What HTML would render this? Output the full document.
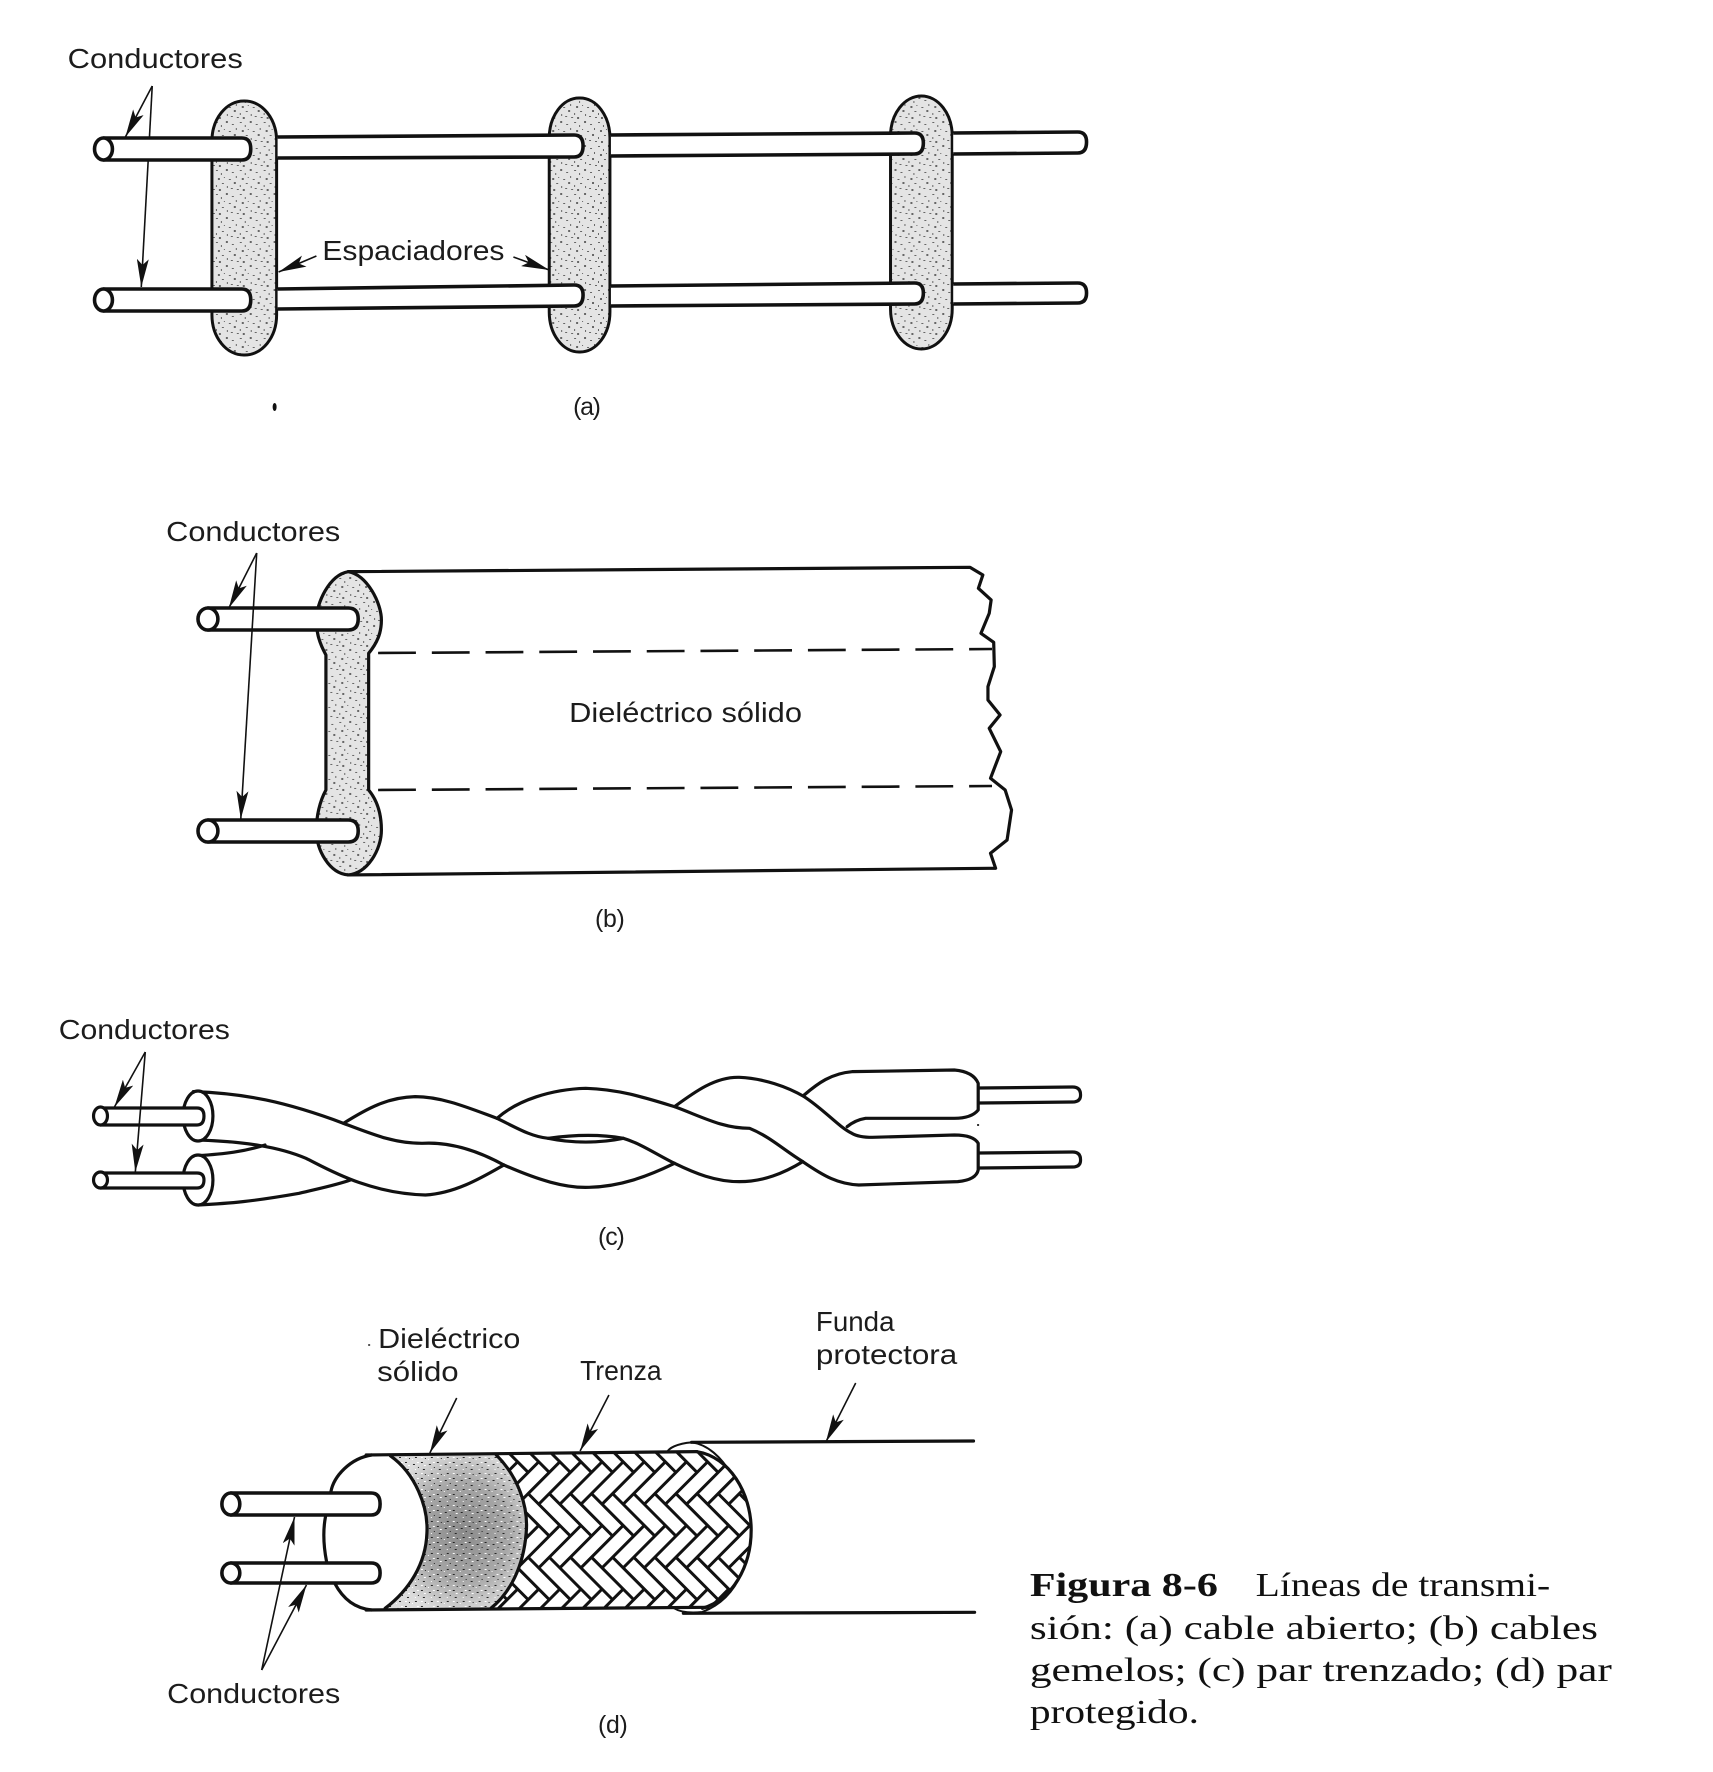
<!DOCTYPE html>
<html><head><meta charset="utf-8"><style>
html,body{margin:0;padding:0;background:#fff}
svg{display:block}
text{font-family:"Liberation Sans",sans-serif;font-size:28px;fill:#1c1c1c}
.s{font-family:"Liberation Serif",serif;font-size:34px;fill:#111}
.l{stroke:#111;stroke-width:3.2;fill:none;stroke-linejoin:round;stroke-linecap:round}
.l path,.l ellipse{vector-effect:non-scaling-stroke}
.w{stroke:#111;stroke-width:3.6;fill:#fff;stroke-linejoin:round}
.a{stroke:#111;stroke-width:1.6;fill:none;marker-end:url(#ah)}
</style></head><body>
<svg width="1713" height="1772" viewBox="0 0 1713 1772" xmlns="http://www.w3.org/2000/svg">
<defs>
<marker id="ah" markerUnits="userSpaceOnUse" viewBox="0 0 28 12" refX="28" refY="6" markerWidth="28" markerHeight="12" orient="auto"><path d="M0 0L28 6L0 12L6 6Z" fill="#111"/></marker>
<pattern id="st" patternUnits="userSpaceOnUse" width="24" height="24">
<rect width="24" height="24" fill="#e4e4e4"/>
<g fill="#666"><rect x="1" y="2" width="2" height="1"/><rect x="6" y="5" width="1" height="2"/><rect x="11" y="1" width="2" height="2"/><rect x="17" y="4" width="2" height="1"/><rect x="21" y="8" width="1" height="2"/><rect x="3" y="10" width="2" height="2"/><rect x="9" y="9" width="1" height="1"/><rect x="14" y="11" width="2" height="1"/><rect x="19" y="14" width="2" height="2"/><rect x="1" y="17" width="1" height="2"/><rect x="7" y="15" width="2" height="1"/><rect x="12" y="18" width="1" height="2"/><rect x="16" y="20" width="2" height="1"/><rect x="22" y="21" width="2" height="1"/><rect x="4" y="21" width="2" height="2"/></g>
</pattern>
<pattern id="stb" href="#st" patternTransform="scale(1.56,3)"/>
<pattern id="dk" patternUnits="userSpaceOnUse" width="16" height="16" patternTransform="scale(1.835,3)">
<g fill="#fff"><rect x="1" y="1" width="2" height="1"/><rect x="8" y="3" width="1" height="1"/><rect x="13" y="6" width="2" height="1"/><rect x="4" y="9" width="2" height="1"/><rect x="11" y="13" width="1" height="1"/></g>
<g fill="#222"><rect x="5" y="2" width="1" height="1"/><rect x="11" y="1" width="2" height="1"/><rect x="1" y="6" width="2" height="1"/><rect x="9" y="8" width="2" height="1"/><rect x="14" y="11" width="1" height="1"/><rect x="3" y="13" width="2" height="1"/></g>
</pattern>
<radialGradient id="dg" cx=".55" cy=".5" r=".55"><stop offset="0" stop-color="#8a8a8a"/><stop offset=".6" stop-color="#a8a8a8"/><stop offset="1" stop-color="#dcdcdc"/></radialGradient>
<pattern id="tw" patternUnits="userSpaceOnUse" width="90" height="90" patternTransform="rotate(45 540 1500) translate(4 2)">
<rect width="90" height="90" fill="#fff"/>
<g fill="#fff" stroke="#111" stroke-width="3">
<rect x="45" y="0" width="45" height="15"/><rect x="30" y="15" width="45" height="15"/><rect x="15" y="30" width="45" height="15"/><rect x="0" y="45" width="45" height="15"/><rect x="75" y="60" width="45" height="15"/><rect x="-15" y="60" width="45" height="15"/><rect x="60" y="75" width="45" height="15"/><rect x="-30" y="75" width="45" height="15"/>
<rect x="0" y="0" width="15" height="45"/><rect x="15" y="75" width="15" height="45"/><rect x="15" y="-15" width="15" height="45"/><rect x="30" y="60" width="15" height="45"/><rect x="30" y="-30" width="15" height="45"/><rect x="45" y="45" width="15" height="45"/><rect x="60" y="30" width="15" height="45"/><rect x="75" y="15" width="15" height="45"/>
</g></pattern>
<clipPath id="bc"><path d="M640,525 L1010,515 C1070,530 1110,640 1110,750 C1110,860 1075,960 1020,985 L630,985 C665,940 690,860 695,760 C700,680 680,590 640,525Z"/></clipPath>
</defs>
<rect width="1713" height="1772" fill="#fff"/>
<g transform="scale(.995,1)">

<!-- (a) -->
<text x="68" y="68" textLength="176" lengthAdjust="spacingAndGlyphs">Conductores</text>
<line class="a" x1="153" y1="86" x2="126" y2="137"/>
<line class="a" x1="153" y1="86" x2="142" y2="287"/>
<rect x="213" y="101" width="65" height="254" rx="32" ry="40" fill="url(#st)" stroke="#111" stroke-width="3"/>
<rect x="552" y="98" width="61" height="254" rx="30" ry="40" fill="url(#st)" stroke="#111" stroke-width="3"/>
<rect x="895" y="96" width="62" height="253" rx="31" ry="40" fill="url(#st)" stroke="#111" stroke-width="3"/>
<g class="w">
<path d="M104 138L243 138Q252 138 252 149Q252 160 243 160L104 160Z"/><ellipse cx="104" cy="149" rx="9" ry="11"/>
<path d="M104 289L243 289Q252 289 252 300Q252 311 243 311L104 311Z"/><ellipse cx="104" cy="300" rx="9" ry="11"/>
<path d="M279 137L577 135Q586 135 586 146Q586 157 577 157L279 158"/>
<path d="M614 135L919 133Q928 133 928 143Q928 154 919 154L614 156"/>
<path d="M958 133L1083 132Q1092 132 1092 142Q1092 153 1083 153L958 154"/>
<path d="M279 289L577 285Q586 285 586 295Q586 306 577 306L279 309"/>
<path d="M614 286L919 283Q928 283 928 293Q928 304 919 304L614 306"/>
<path d="M958 284L1083 283Q1092 283 1092 293Q1092 303 1083 303L958 304"/>
</g>
<text x="324" y="260" textLength="183" lengthAdjust="spacingAndGlyphs">Espaciadores</text>
<line class="a" x1="318" y1="256" x2="280" y2="272"/>
<line class="a" x1="516" y1="257" x2="552" y2="270"/>
<text x="576" y="415" textLength="28" style="font-size:25px">(a)</text>
<ellipse cx="276" cy="407" rx="2" ry="4" fill="#111"/>

<!-- (b) -->
<text x="167" y="541" textLength="175" lengthAdjust="spacingAndGlyphs">Conductores</text>
<g class="l" transform="translate(100,480) scale(.641,.3333)">
<path d="M390,275 L1365,262 L1385,285 L1378,325 L1398,360 L1395,400 L1382,460 L1402,487 L1403,560 L1393,620 L1393,660 L1412,705 L1395,745 L1413,815 L1397,895 L1420,930 L1430,990 L1423,1080 L1397,1120 L1405,1165 L1395,1165 L390,1185"/>
<path fill="url(#stb)" d="M390,275 C360,285 340,370 340,420 C340,460 345,490 355,525 L355,930 C345,965 340,1010 340,1050 C340,1110 360,1180 390,1185 C420,1180 442,1110 442,1050 C442,1000 435,960 422,930 L422,520 C435,490 442,460 442,420 C442,370 420,285 390,275Z"/>
</g>
<path d="M380 653L997 649M380 790L997 786" stroke="#111" stroke-width="2.6" stroke-dasharray="38 16" fill="none"/>
<g class="w">
<path d="M209 608L350 608Q360 608 360 619Q360 630 350 630L209 630Z"/><ellipse cx="209" cy="619" rx="10" ry="11"/>
<path d="M209 820L350 820Q360 820 360 831Q360 842 350 842L209 842Z"/><ellipse cx="209" cy="831" rx="10" ry="11"/>
</g>
<line class="a" x1="258" y1="553" x2="230" y2="608"/>
<line class="a" x1="258" y1="553" x2="242" y2="819"/>
<text x="572" y="722" textLength="234" lengthAdjust="spacingAndGlyphs">Dieléctrico sólido</text>
<text x="598" y="927" textLength="30" style="font-size:25px">(b)</text>

<!-- (c) -->
<text x="59" y="1039" textLength="172" lengthAdjust="spacingAndGlyphs">Conductores</text>
<g class="l" transform="translate(40,980) scale(.6859,.3333)">
<path d="M225,335 C300,340 360,365 445,430 C490,465 520,490 560,490 C600,485 640,510 680,555 C730,600 770,625 805,622 C850,620 890,590 930,550"/>
<path d="M232,480 C300,485 350,500 390,535 C420,565 480,640 565,645 C610,640 650,590 680,555"/>
<path d="M445,430 C480,385 510,352 550,350 C590,350 630,385 670,415 C700,445 720,470 745,475"/>
<path d="M670,415 C700,360 750,328 800,325 C850,328 890,355 930,380 C970,410 1000,445 1040,445 C1070,470 1090,510 1118,545 C1150,590 1170,612 1200,615 L1345,605 Q1372,600 1375,570 L1375,490 Q1368,465 1340,465 L1220,472 Q1200,472 1190,460 C1170,440 1150,390 1120,350 C1095,320 1060,295 1025,292 C990,290 960,335 930,380"/>
<path d="M1120,345 C1140,310 1160,280 1190,275 L1340,270 Q1368,275 1375,310 L1375,390 Q1365,415 1340,415 L1210,415 Q1195,420 1183,440"/>
<path d="M745,475 C780,465 820,462 855,475 C820,490 780,490 745,475Z"/>
<path d="M855,475 C880,490 905,525 930,550 C960,580 990,605 1025,605 C1060,605 1090,580 1118,545"/>
<path d="M232,527 C270,522 300,515 330,495"/>
<path d="M232,675 C280,670 310,665 380,640 C410,625 435,615 455,600"/>
</g>
<g class="w" style="stroke-width:3.2">
<ellipse cx="199" cy="1116" rx="15" ry="25"/><ellipse cx="199" cy="1180" rx="15" ry="25"/>
<path d="M101 1108L198 1108Q205 1108 205 1116Q205 1125 198 1125L101 1125Z"/><ellipse cx="101" cy="1116" rx="7" ry="9"/>
<path d="M101 1173L198 1173Q205 1173 205 1180Q205 1188 198 1188L101 1188Z"/><ellipse cx="101" cy="1180" rx="7" ry="8"/>
<path d="M984 1088L1078 1087Q1086 1087 1086 1095Q1086 1102 1078 1102L984 1103" fill="none"/>
<path d="M984 1153L1078 1152Q1086 1152 1086 1160Q1086 1167 1078 1167L984 1168" fill="none"/>
</g>
<line class="a" x1="146" y1="1052" x2="115" y2="1107"/>
<line class="a" x1="146" y1="1052" x2="136" y2="1172"/>
<text x="601" y="1245" textLength="27" style="font-size:25px">(c)</text>
<rect x="982" y="1124" width="2" height="2" fill="#333"/>

<!-- (d) -->
<text x="380" y="1348" textLength="143" lengthAdjust="spacingAndGlyphs">Dieléctrico</text>
<text x="379" y="1381" textLength="82" lengthAdjust="spacingAndGlyphs">sólido</text>
<text x="583" y="1380" textLength="82" lengthAdjust="spacingAndGlyphs">Trenza</text>
<text x="820" y="1331" textLength="79" lengthAdjust="spacingAndGlyphs">Funda</text>
<text x="820" y="1364" textLength="142" lengthAdjust="spacingAndGlyphs">protectora</text>
<text x="168" y="1703" textLength="174" lengthAdjust="spacingAndGlyphs">Conductores</text>
<text x="601" y="1733" textLength="30" style="font-size:25px">(d)</text>
<rect x="370" y="1344" width="2" height="2" fill="#555"/>
<g class="l" transform="translate(150,1280) scale(.545,.3333)">
<path d="M1000,487 L1520,483"/>
<path d="M985,1000 L1522,997"/>
<path style="stroke-width:2" d="M955,520 C955,505 975,490 1000,487 C1060,500 1100,640 1105,750"/>
<path style="stroke-width:2" d="M968,985 Q985,1002 1020,996 Q1070,965 1092,880"/>
<path d="M410,525 C370,535 340,590 335,635"/>
<path d="M325,710 Q318,770 327,845"/>
<path d="M342,910 C355,950 375,985 410,990"/>
<path stroke="none" fill="url(#dg)" d="M445,528 L640,525 C680,590 700,680 695,760 C690,860 665,940 630,985 L435,985 C480,930 510,850 512,760 C515,680 490,580 445,528Z"/>
<path stroke="none" fill="url(#dk)" d="M445,528 L640,525 C680,590 700,680 695,760 C690,860 665,940 630,985 L435,985 C480,930 510,850 512,760 C515,680 490,580 445,528Z"/>
<path d="M445,528 C490,580 515,680 512,760 C510,850 480,930 435,985"/>
</g>
<g transform="translate(150,1280) scale(.545,.3333)"><g clip-path="url(#bc)"><g transform="scale(1.835,3) translate(-150,-1280)"><rect x="300" y="1380" width="500" height="300" fill="url(#tw)"/></g></g></g>
<g class="l" transform="translate(150,1280) scale(.545,.3333)">
<path d="M640,525 C680,590 700,680 695,760 C690,860 665,940 630,985"/>
<path d="M1010,515 C1070,530 1110,640 1110,750 C1110,860 1075,960 1020,985"/>
<path d="M400,525 L1010,515"/>
<path d="M400,990 L1030,982"/>
</g>
<g class="w">
<path d="M232 1493L373 1493Q382 1493 382 1504Q382 1515 373 1515L232 1515Z"/><ellipse cx="232" cy="1504" rx="9" ry="11"/>
<path d="M232 1563L373 1563Q382 1563 382 1573Q382 1583 373 1583L232 1583Z"/><ellipse cx="232" cy="1573" rx="9" ry="10"/>
</g>
<line class="a" x1="263" y1="1670" x2="296" y2="1517"/>
<line class="a" x1="263" y1="1670" x2="308" y2="1585"/>
<line class="a" x1="459" y1="1398" x2="432" y2="1453"/>
<line class="a" x1="612" y1="1395" x2="583" y2="1451"/>
<line class="a" x1="860" y1="1383" x2="830" y2="1442"/>

<!-- caption -->
<text class="s" x="1035" y="1596" textLength="189" lengthAdjust="spacingAndGlyphs" style="font-weight:bold">Figura 8-6</text>
<text class="s" x="1262" y="1596" textLength="296" lengthAdjust="spacingAndGlyphs">Líneas de transmi-</text>
<text class="s" x="1035" y="1639" textLength="571" lengthAdjust="spacingAndGlyphs">sión: (a) cable abierto; (b) cables</text>
<text class="s" x="1035" y="1681" textLength="585" lengthAdjust="spacingAndGlyphs">gemelos; (c) par trenzado; (d) par</text>
<text class="s" x="1035" y="1723" textLength="170" lengthAdjust="spacingAndGlyphs">protegido.</text>
</g>
</svg>
</body></html>
